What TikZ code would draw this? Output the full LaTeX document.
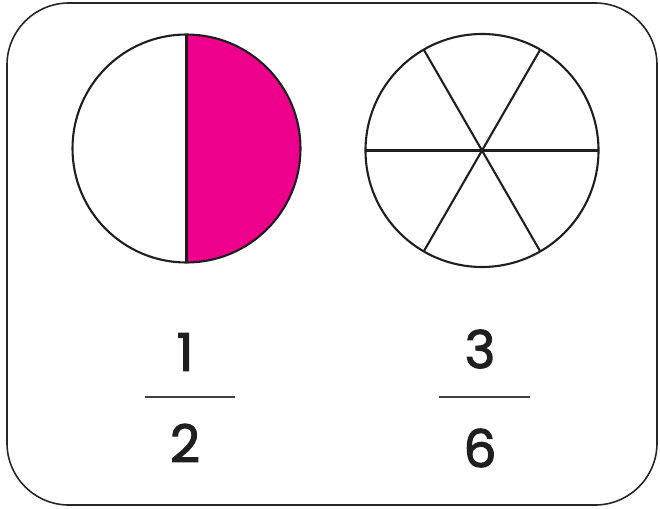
\documentclass[tikz,border=0pt]{standalone}
\usepackage{fontspec}
\setmainfont{Poppins}
\newfontfamily\digitfont{Poppins}[FakeBold=2.2]
\usetikzlibrary{calc}
\definecolor{magentafill}{HTML}{EC008C}
\begin{document}
\begin{tikzpicture}[x=1pt,y=-1pt,
  outline/.style={line width=2.1pt,draw=black!88},
  digit/.style={font=\digitfont\fontsize{52}{52}\selectfont,text=black!88,inner sep=0pt,anchor=center},
  fbar/.style={line width=1.8pt,draw=black!75}]
\useasboundingbox (0,0) rectangle (660,508);
\draw[line width=1.6pt,draw=black!85,rounded corners=62pt] (7,3) rectangle (657,505);
% left circle
\coordinate (lc) at (186.5,148.5);
\fill[magentafill] (186.5,34.5) arc[start angle=90,end angle=-90,radius=114pt] -- cycle;
\draw[outline] (lc) circle[radius=114pt];
\draw[outline] (186.5,34.5) -- (186.5,262.5);
% right circle
\coordinate (rc) at (482,150.5);
\draw[outline] (rc) circle[radius=116.5pt];
\foreach \a in {0,60,120} {
  \draw[outline] ($(rc)+(\a:116.5pt)$) -- ($(rc)+(\a+180:116.5pt)$);
}
% fractions
\node[digit] (n1) at (185,352) {1};
\draw[fbar] (145,397) -- (235,397);
\node[digit] (d1) at (185,443) {2};
\node[digit] (n2) at (480,349) {3};
\draw[fbar] (439,397) -- (530,397);
\node[digit] (d2) at (480,448) {6};
\end{tikzpicture}
\end{document}
